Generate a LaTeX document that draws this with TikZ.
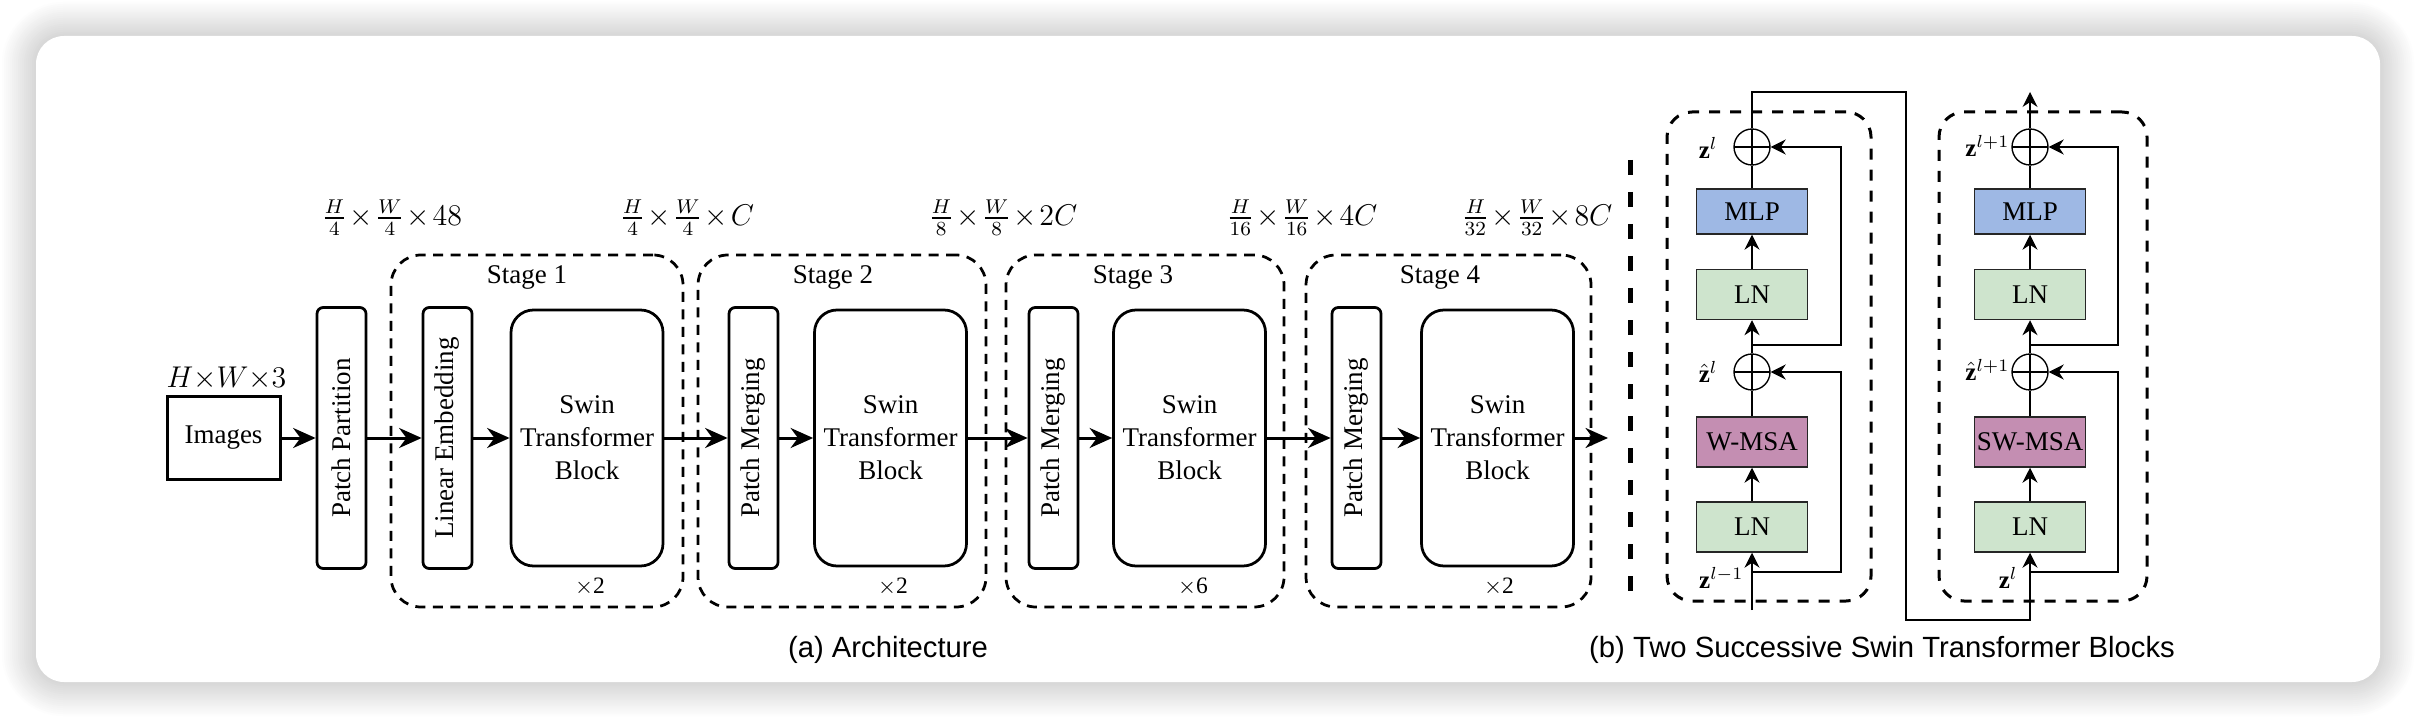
\documentclass[tikz,border=0pt]{standalone}
\usepackage{fontspec}
\setmainfont{Liberation Serif}
\setsansfont{Liberation Sans}
\usepackage{amsmath}
\usepackage{amssymb}
\usepackage{bm}
\usetikzlibrary{arrows.meta,calc,positioning,shapes}

\definecolor{mlpblue}{RGB}{158,184,228}
\definecolor{lngreen}{RGB}{206,228,205}
\definecolor{msapurple}{RGB}{196,142,178}
\newcommand{\boxfont}{\fontsize{10.8}{13.2}\selectfont}
\newcommand{\dimfont}{\fontsize{11.6}{14}\selectfont}
\newcommand{\tm}{\mkern1.5mu{\times}\mkern1.5mu}

\begin{document}
\begin{tikzpicture}[x=0.4pt,y=-0.4pt,
    arr/.style={line width=1.2pt,-{Stealth[length=9pt,width=8pt]}},
    sarr/.style={line width=0.55pt,-{Stealth[length=6pt,width=6pt]}},
    wire/.style={line width=0.55pt},
    tallbox/.style={draw,line width=1.1pt,rounded corners=2.5pt,rotate=90,
        minimum width=104.4pt,minimum height=19.6pt,inner sep=0pt,font=\boxfont},
    swinbox/.style={draw,line width=1.1pt,rounded corners=9pt,minimum width=60.8pt,
        minimum height=102.4pt,align=center,font=\boxfont},
    stagebox/.style={draw,line width=1.1pt,dash pattern=on 4pt off 3pt,
        rounded corners=12pt,minimum height=140.8pt,inner sep=0pt},
    blockbox/.style={draw,line width=1.2pt,dash pattern=on 4.4pt off 4pt,
        rounded corners=10pt,minimum height=195.6pt,inner sep=0pt},
    layer/.style={draw=black!85,line width=0.55pt,minimum width=44.4pt,
        minimum height=20pt,inner sep=1pt,font=\boxfont},
    addop/.style={circle,draw,line width=0.55pt,minimum size=14.4pt,inner sep=0pt,
        path picture={\draw[line width=0.55pt]
          (path picture bounding box.north) -- (path picture bounding box.south)
          (path picture bounding box.west) -- (path picture bounding box.east);}},
    zlabel/.style={anchor=east,font=\fontsize{10}{12}\selectfont,inner sep=0pt},
    caption/.style={anchor=base,font=\sffamily\fontsize{11.7}{14}\selectfont}]

    \useasboundingbox (0,0) rectangle (2416,718);
    % card with soft shadow
    \foreach \k in {0,...,17}{
        \pgfmathsetmacro{\d}{36-2*\k}
        \pgfmathsetmacro{\s}{0.9*\k}
        \pgfmathsetmacro{\r}{(28+\d)*0.4}
        \fill[black!\s,rounded corners=\r pt] (36-\d,36-\d) rectangle (2380+\d,682+\d);
    }
    \fill[white,rounded corners=11.2pt] (36,36) rectangle (2380,682);

    % (a) architecture
    \node[draw,line width=1.2pt,minimum width=45.2pt,minimum height=33.2pt,font=\boxfont]
        (img) at (223.5,438) {Images};
    \node[font=\fontsize{12}{14}\selectfont] at (226.5,379) {$H{\times}W{\times}3$};
    \node[tallbox] (pp) at (341.5,438) {Patch Partition};

    \node[stagebox,minimum width=116.8pt] (stage1) at (537,431) {};
    \node[stagebox,minimum width=115.2pt] (stage2) at (842,431) {};
    \node[stagebox,minimum width=111.2pt] (stage3) at (1145,431) {};
    \node[stagebox,minimum width=114pt] (stage4) at (1448.5,431) {};

    \node[font=\boxfont] (st1) at (527,277) {Stage 1};
    \node[font=\boxfont] (st2) at (833,277) {Stage 2};
    \node[font=\boxfont] (st3) at (1133,277) {Stage 3};
    \node[font=\boxfont] (st4) at (1440,277) {Stage 4};

    \node[tallbox] (le) at (447.5,438) {Linear Embedding};
    \node[swinbox] (sw1) at (587,438) {Swin\\Transformer\\Block};
    \node[tallbox] (pm2) at (753.5,438) {Patch Merging};
    \node[swinbox] (sw2) at (890.5,438) {Swin\\Transformer\\Block};
    \node[tallbox] (pm3) at (1053.5,438) {Patch Merging};
    \node[swinbox] (sw3) at (1189.5,438) {Swin\\Transformer\\Block};
    \node[tallbox] (pm4) at (1356.5,438) {Patch Merging};
    \node[swinbox] (sw4) at (1497.5,438) {Swin\\Transformer\\Block};
    \coordinate (out) at (1608,438);

    \node[font=\fontsize{9.4}{11}\selectfont] at (590,587) {$\times$2};
    \node[font=\fontsize{9.4}{11}\selectfont] at (893,587) {$\times$2};
    \node[font=\fontsize{9.4}{11}\selectfont] at (1193,587) {$\times$6};
    \node[font=\fontsize{9.4}{11}\selectfont] at (1499,587) {$\times$2};

    \node[font=\dimfont] at (392,218) {$\frac{H}{4}\tm\frac{W}{4}\tm 48$};
    \node[font=\dimfont] at (687,218) {$\frac{H}{4}\tm\frac{W}{4}\tm C$};
    \node[font=\dimfont] at (1003,218) {$\frac{H}{8}\tm\frac{W}{8}\tm 2C$};
    \node[font=\dimfont] at (1302,218) {$\frac{H}{16}\tm\frac{W}{16}\tm 4C$};
    \node[font=\dimfont] at (1537,218) {$\frac{H}{32}\tm\frac{W}{32}\tm 8C$};

    \draw[arr] (img) -- (pp);
    \draw[arr] (pp) -- (le);
    \draw[arr] (le) -- (sw1);
    \draw[arr] (sw1) -- (pm2);
    \draw[arr] (pm2) -- (sw2);
    \draw[arr] (sw2) -- (pm3);
    \draw[arr] (pm3) -- (sw3);
    \draw[arr] (sw3) -- (pm4);
    \draw[arr] (pm4) -- (sw4);
    \draw[arr] (sw4) -- (out);

    \draw[line width=2pt,dash pattern=on 6pt off 6.8pt] (1630,160) -- (1630,607);

    % (b) two successive blocks
    \node[blockbox,minimum width=81.6pt] (blockA) at (1769,356.5) {};
    \node[blockbox,minimum width=83.2pt] (blockB) at (2043,356.5) {};

    \node[layer,fill=lngreen] (aln1) at (1752,527) {LN};
    \node[layer,fill=msapurple] (amsa) at (1752,442) {W-MSA};
    \node[addop] (aadd1) at (1752,372) {};
    \node[layer,fill=lngreen] (aln2) at (1752,294.5) {LN};
    \node[layer,fill=mlpblue,minimum height=18pt] (amlp) at (1752,211.5) {MLP};
    \node[addop] (aadd2) at (1752,147) {};

    \node[layer,fill=lngreen] (bln1) at (2030,527) {LN};
    \node[layer,fill=msapurple] (bmsa) at (2030,442) {SW-MSA};
    \node[addop] (badd1) at (2030,372) {};
    \node[layer,fill=lngreen] (bln2) at (2030,294.5) {LN};
    \node[layer,fill=mlpblue,minimum height=18pt] (bmlp) at (2030,211.5) {MLP};
    \node[addop] (badd2) at (2030,147) {};

    \coordinate (ain) at (1752,610);
    \coordinate (askip1) at (1752,572);
    \coordinate (askip2) at (1752,345);
    \coordinate (bskip1) at (2030,572);
    \coordinate (bskip2) at (2030,345);
    \coordinate (turnA) at (1906,92);
    \coordinate (turnB) at (2030,620);
    \coordinate (bout) at (2030,92);

    \draw[sarr] (ain) -- (aln1);
    \draw[sarr] (aln1) -- (amsa);
    \draw[wire] (amsa) -- (aadd1);
    \draw[sarr] (aadd1) -- (aln2);
    \draw[sarr] (aln2) -- (amlp);
    \draw[wire] (amlp) -- (aadd2);
    \draw[sarr] (askip1) -- ++(89,0) |- (aadd1.east);
    \draw[sarr] (askip2) -- ++(89,0) |- (aadd2.east);

    \draw[sarr] (aadd2) |- (turnA) |- (turnB) -- (bln1);

    \draw[sarr] (bln1) -- (bmsa);
    \draw[wire] (bmsa) -- (badd1);
    \draw[sarr] (badd1) -- (bln2);
    \draw[sarr] (bln2) -- (bmlp);
    \draw[wire] (bmlp) -- (badd2);
    \draw[sarr] (bskip1) -- ++(88,0) |- (badd1.east);
    \draw[sarr] (bskip2) -- ++(88,0) |- (badd2.east);
    \draw[sarr] (badd2) -- (bout);

    \node[zlabel] at (1718,148) {$\mathbf{z}^{l}$};
    \node[zlabel] at (1718,372) {$\hat{\mathbf{z}}^{l}$};
    \node[zlabel] at (1744,578) {$\mathbf{z}^{l-1}$};
    \node[zlabel] at (2010,146) {$\mathbf{z}^{l+1}$};
    \node[zlabel] at (2010,370) {$\hat{\mathbf{z}}^{l+1}$};
    \node[zlabel] at (2018,578) {$\mathbf{z}^{l}$};

    \node[caption] (capa) at (888,657) {(a) Architecture};
    \node[caption] (capb) at (1882,657) {(b) Two Successive Swin Transformer Blocks};
\end{tikzpicture}
\end{document}
